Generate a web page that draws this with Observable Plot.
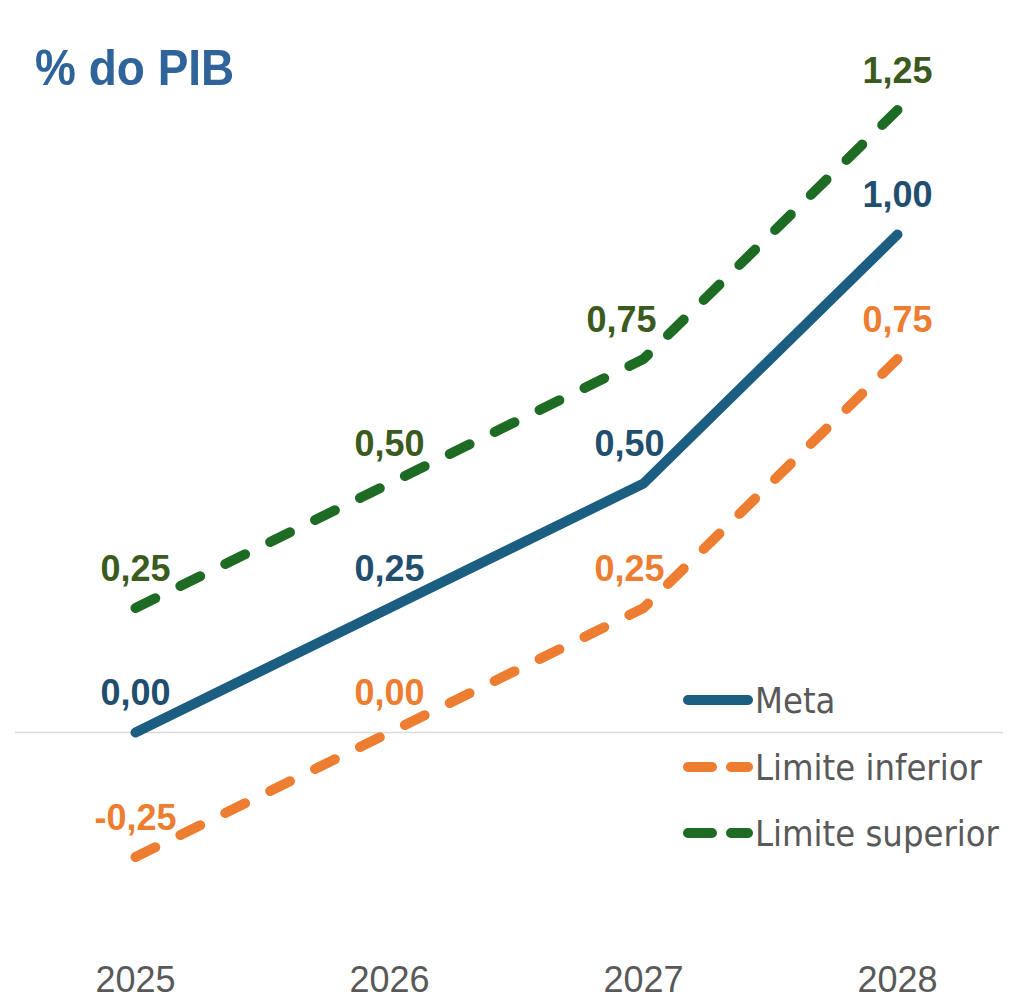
<!DOCTYPE html>
<html>
<head>
<meta charset="utf-8">
<script src="https://cdn.jsdelivr.net/npm/d3@7"></script>
<script src="https://cdn.jsdelivr.net/npm/@observablehq/plot@0.6"></script>
<style>
  html, body { margin: 0; padding: 0; background: #fff; }
  #wrap { position: relative; width: 1018px; height: 1002px; overflow: hidden; }
  #title { position: absolute; left: 35px; top: 42px; font-family: "Liberation Sans", Arial, sans-serif; font-weight: bold; font-size: 46px; color: #2E6499; line-height: 1; transform: scaleY(1.1); transform-origin: left top; }
  #legend { position: absolute; left: 683px; top: 0; font-family: "DejaVu Sans Condensed", "Liberation Sans", sans-serif; font-size: 36px; color: #595959; }
  .item { position: absolute; left: 0; display: flex; align-items: center; white-space: nowrap; height: 42px; }
  .item svg { display: block; margin-right: 2px; }
</style>
</head>
<body>
<div id="wrap">
  <div id="chart"></div>
  <div id="title">% do PIB</div>
  <div id="legend"></div>
</div>
<script>
const years = [2025, 2026, 2027, 2028];
const meta = [0, 0.25, 0.5, 1.0];
const limiteInferior = [-0.25, 0, 0.25, 0.75];
const limiteSuperior = [0.25, 0.5, 0.75, 1.25];
const seriesNames = ["Meta", "Limite inferior", "Limite superior"];
const lineColors = ["#1B5E82", "#ED7D31", "#1E6B24"];
const labelColors = ["#1F4E6E", "#ED7D31", "#3A5A1E"];
const dashes = [null, "22 28", "22 28"];

const seriesValues = [meta, limiteInferior, limiteSuperior];
const rows = [];
seriesValues.forEach((vals, si) => {
  vals.forEach((v, i) => rows.push({series: seriesNames[si], year: years[i], value: v}));
});
const fmt = v => d3.format(".2f")(v).replace(".", ",").replace("−", "-");

const marks = [
  Plot.ruleY([0], {stroke: "#D9D9D9", strokeWidth: 1.5})
];
[2, 1, 0].forEach(si => {
  marks.push(Plot.line(rows.filter(d => d.series === seriesNames[si]), {
    x: "year", y: "value",
    stroke: lineColors[si], strokeWidth: 10,
    strokeLinecap: "round", strokeLinejoin: "round",
    strokeDasharray: dashes[si] || undefined
  }));
});
[0, 1, 2].forEach(si => {
  const sRows = rows.filter(d => d.series === seriesNames[si]);
  const common = {
    x: "year", y: "value", text: d => fmt(d.value),
    dy: -39, fill: labelColors[si], fontSize: 36, fontWeight: "bold",
    fontFamily: "Liberation Sans, Arial, sans-serif"
  };
  marks.push(Plot.text(sRows.filter(d => d.year !== 2027), common));
  marks.push(Plot.text(sRows.filter(d => d.year === 2027), {...common, dx: si === 2 ? -22 : -14}));
});
marks.push(Plot.axisX({
  ticks: years, tickFormat: d => String(d), tickSize: 0, tickPadding: 35,
  fontSize: 36, fill: "#595959", fontFamily: "Liberation Sans, Arial, sans-serif"
}));

const chart = Plot.plot({
  width: 1018, height: 1002,
  marginLeft: 15, marginRight: 15, marginTop: 34.8, marginBottom: 70.8,
  x: {type: "linear", domain: [2025 - 120/254, 2028 + 106/254], label: null},
  y: {domain: [-0.4, 1.4], axis: null},
  style: {background: "#fff", overflow: "visible"},
  marks
});
document.getElementById("chart").appendChild(chart);

// legend
const legend = document.getElementById("legend");
const legendY = [700, 767, 833];
seriesNames.forEach((name, si) => {
  const item = document.createElement("div");
  item.className = "item";
  item.style.top = (legendY[si] - 21) + "px";
  const ns = "http://www.w3.org/2000/svg";
  const svg = document.createElementNS(ns, "svg");
  svg.setAttribute("width", 70); svg.setAttribute("height", 14);
  const line = document.createElementNS(ns, "line");
  line.setAttribute("x1", 5); line.setAttribute("x2", 65);
  line.setAttribute("y1", 7); line.setAttribute("y2", 7);
  line.setAttribute("stroke", lineColors[si]);
  line.setAttribute("stroke-width", 10);
  line.setAttribute("stroke-linecap", "round");
  if (dashes[si]) line.setAttribute("stroke-dasharray", "24 19");
  svg.appendChild(line);
  item.appendChild(svg);
  const span = document.createElement("span");
  span.textContent = name;
  item.appendChild(span);
  legend.appendChild(item);
});
</script>
</body>
</html>
